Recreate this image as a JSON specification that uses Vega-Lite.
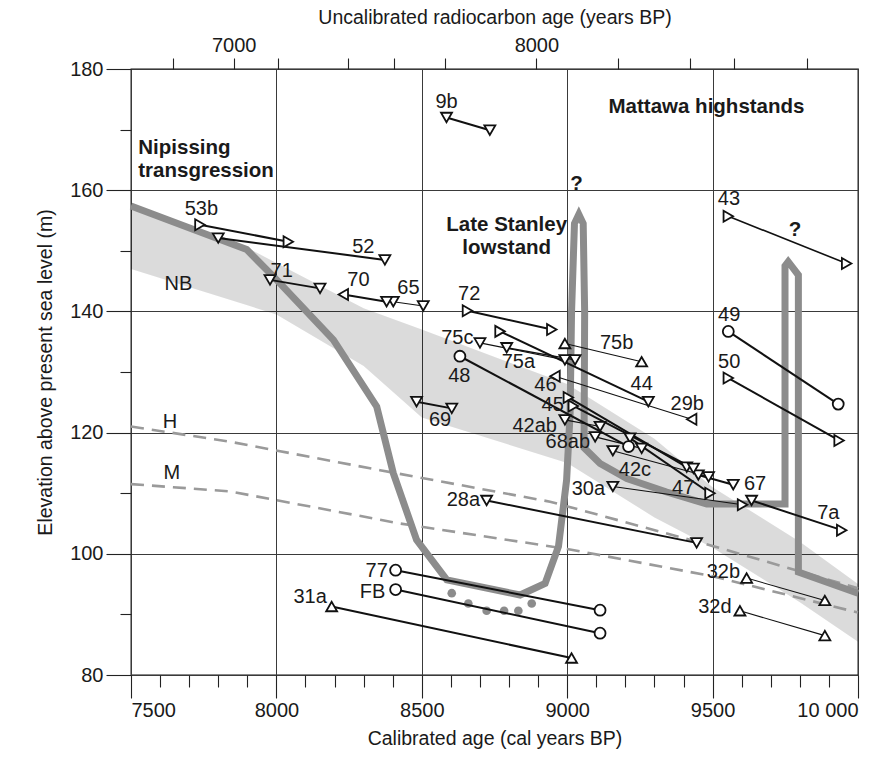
{
  "$schema": "https://vega.github.io/schema/vega-lite/v6.json",
  "width": 727,
  "height": 606,
  "autosize": {"type": "none"},
  "padding": {"left": 131, "top": 69, "right": 38, "bottom": 85},
  "config": {
    "font": "Liberation Sans",
    "view": {"stroke": "#111", "strokeWidth": 1.3},
    "axis": {"labelFontSize": 20, "titleFontSize": 19.5, "titleFontWeight": "normal", "labelColor": "#1a1a1a", "titleColor": "#1a1a1a", "tickColor": "#222", "domain": false, "gridColor": "#3a3a3a", "gridOpacity": 1, "gridWidth": 1, "tickWidth": 1.1}
  },
  "datasets": {
    "band": [
      {"x": 7500, "top": 157, "bot": 147},
      {"x": 7900, "top": 150.5, "bot": 141},
      {"x": 8000, "top": 148, "bot": 139.5},
      {"x": 8300, "top": 140.5, "bot": 131},
      {"x": 8500, "top": 137, "bot": 122.5},
      {"x": 9000, "top": 128, "bot": 115},
      {"x": 9300, "top": 119, "bot": 106},
      {"x": 9500, "top": 111, "bot": 101},
      {"x": 9800, "top": 102, "bot": 92},
      {"x": 10000, "top": 95, "bot": 85.5}
    ],
    "dashed": [
      {"line": "H", "x": 7500, "y": 121.0},
      {"line": "H", "x": 7840, "y": 118.5},
      {"line": "H", "x": 8356, "y": 113.8},
      {"line": "H", "x": 8941, "y": 108.6},
      {"line": "H", "x": 9500, "y": 101.3},
      {"line": "H", "x": 10000, "y": 94.3},
      {"line": "M", "x": 7500, "y": 111.5},
      {"line": "M", "x": 7840, "y": 110.3},
      {"line": "M", "x": 8425, "y": 105.0},
      {"line": "M", "x": 9000, "y": 100.8},
      {"line": "M", "x": 9500, "y": 96.3},
      {"line": "M", "x": 10000, "y": 90.3}
    ],
    "curve": [
      {"i": 1, "x": 7500, "y": 157.4},
      {"i": 2, "x": 7898, "y": 150.2},
      {"i": 3, "x": 8001, "y": 145.2},
      {"i": 4, "x": 8196, "y": 135.3},
      {"i": 5, "x": 8345, "y": 124.3},
      {"i": 6, "x": 8402, "y": 113.3},
      {"i": 7, "x": 8482, "y": 102.3},
      {"i": 8, "x": 8586, "y": 95.7},
      {"i": 9, "x": 8838, "y": 93.2},
      {"i": 10, "x": 8924, "y": 95.1},
      {"i": 11, "x": 8970, "y": 101.2},
      {"i": 12, "x": 8998, "y": 112.2},
      {"i": 13, "x": 9010, "y": 123.2},
      {"i": 14, "x": 9015, "y": 140},
      {"i": 15, "x": 9025, "y": 154.5},
      {"i": 16, "x": 9040, "y": 156},
      {"i": 17, "x": 9055, "y": 154.5},
      {"i": 18, "x": 9060, "y": 140},
      {"i": 19, "x": 9058, "y": 117.5},
      {"i": 20, "x": 9113, "y": 114.9},
      {"i": 21, "x": 9205, "y": 112.4},
      {"i": 22, "x": 9342, "y": 110.2},
      {"i": 23, "x": 9480, "y": 108.2},
      {"i": 24, "x": 9749, "y": 108.2},
      {"i": 25, "x": 9749, "y": 147.5},
      {"i": 26, "x": 9760, "y": 148.2},
      {"i": 27, "x": 9795, "y": 146},
      {"i": 28, "x": 9795, "y": 97},
      {"i": 29, "x": 10000, "y": 93.5}
    ],
    "dots": [
      {"x": 8603, "y": 93.5},
      {"x": 8660, "y": 91.8},
      {"x": 8723, "y": 90.6},
      {"x": 8783, "y": 90.6},
      {"x": 8832, "y": 90.6},
      {"x": 8878, "y": 91.8}
    ],
    "samples": [
      {"id": "9b", "x1": 8585, "y1": 172.0, "s1": "triangle-down", "x2": 8734, "y2": 169.9, "s2": "triangle-down", "w": 2},
      {"id": "43", "x1": 9554, "y1": 155.7, "s1": "triangle-right", "x2": 9961, "y2": 147.9, "s2": "triangle-right", "w": 1.6},
      {"id": "53b", "x1": 7737, "y1": 154.3, "s1": "triangle-right", "x2": 8041, "y2": 151.5, "s2": "triangle-right", "w": 2},
      {"id": "52", "x1": 7800, "y1": 152.1, "s1": "triangle-down", "x2": 8373, "y2": 148.5, "s2": "triangle-down", "w": 2},
      {"id": "71", "x1": 7978, "y1": 145.2, "s1": "triangle-down", "x2": 8150, "y2": 143.8, "s2": "triangle-down", "w": 2},
      {"id": "70", "x1": 8230, "y1": 142.8, "s1": "triangle-left", "x2": 8379, "y2": 141.6, "s2": "triangle-down", "w": 2},
      {"id": "65", "x1": 8402, "y1": 141.6, "s1": "triangle-down", "x2": 8505, "y2": 140.9, "s2": "triangle-down", "w": 1.1},
      {"id": "72", "x1": 8657, "y1": 140.1, "s1": "triangle-right", "x2": 8947, "y2": 137.0, "s2": "triangle-right", "w": 2},
      {"id": "75c", "x1": 8700, "y1": 134.8, "s1": "triangle-down", "x2": 8992, "y2": 132.0, "s2": "triangle-down", "w": 1.1},
      {"id": "75a", "x1": 8792, "y1": 134.0, "s1": "triangle-down", "x2": 9027, "y2": 132.0, "s2": "triangle-down", "w": 1.4},
      {"id": "44", "x1": 8769, "y1": 136.7, "s1": "triangle-right", "x2": 9279, "y2": 125.1, "s2": "triangle-down", "w": 2},
      {"id": "75b", "x1": 8992, "y1": 134.7, "s1": "triangle-up", "x2": 9256, "y2": 131.7, "s2": "triangle-up", "w": 1.1},
      {"id": "29b", "x1": 8958, "y1": 129.3, "s1": "triangle-left", "x2": 9428, "y2": 122.2, "s2": "triangle-left", "w": 1.1},
      {"id": "48", "x1": 8631, "y1": 132.6, "s1": "circle", "x2": 9211, "y2": 117.7, "s2": "circle", "w": 2},
      {"id": "46", "x1": 9004, "y1": 125.8, "s1": "triangle-right", "x2": 9411, "y2": 114.3, "s2": "triangle-down", "w": 2},
      {"id": "45", "x1": 9021, "y1": 124.4, "s1": "triangle-right", "x2": 9434, "y2": 114.1, "s2": "triangle-down", "w": 2},
      {"id": "47", "x1": 9216, "y1": 119.1, "s1": "triangle-down", "x2": 9491, "y2": 110.0, "s2": "triangle-right", "w": 2},
      {"id": "42ab", "x1": 8992, "y1": 122.1, "s1": "triangle-down", "x2": 9113, "y2": 121.0, "s2": "triangle-down", "w": 1.1},
      {"id": "68ab", "x1": 9096, "y1": 119.3, "s1": "triangle-down", "x2": 9256, "y2": 117.4, "s2": "triangle-down", "w": 1.1},
      {"id": "42c", "x1": 9157, "y1": 117.0, "s1": "triangle-down", "x2": 9486, "y2": 112.7, "s2": "triangle-down", "w": 1.1},
      {"id": "67", "x1": 9451, "y1": 113.0, "s1": "triangle-down", "x2": 9571, "y2": 111.4, "s2": "triangle-down", "w": 2},
      {"id": "30a", "x1": 9157, "y1": 111.1, "s1": "triangle-down", "x2": 9603, "y2": 108.1, "s2": "triangle-right", "w": 1.1},
      {"id": "7a", "x1": 9634, "y1": 108.8, "s1": "triangle-down", "x2": 9944, "y2": 103.9, "s2": "triangle-right", "w": 2},
      {"id": "28a", "x1": 8723, "y1": 108.8, "s1": "triangle-down", "x2": 9445, "y2": 101.8, "s2": "triangle-down", "w": 2},
      {"id": "49", "x1": 9554, "y1": 136.7, "s1": "circle", "x2": 9932, "y2": 124.7, "s2": "circle", "w": 2},
      {"id": "50", "x1": 9554, "y1": 129.0, "s1": "triangle-right", "x2": 9935, "y2": 118.7, "s2": "triangle-right", "w": 2},
      {"id": "69", "x1": 8482, "y1": 125.1, "s1": "triangle-down", "x2": 8603, "y2": 124.0, "s2": "triangle-down", "w": 2},
      {"id": "77", "x1": 8410, "y1": 97.3, "s1": "circle", "x2": 9113, "y2": 90.7, "s2": "circle", "w": 2},
      {"id": "FB", "x1": 8410, "y1": 94.1, "s1": "circle", "x2": 9113, "y2": 86.9, "s2": "circle", "w": 2},
      {"id": "31a", "x1": 8190, "y1": 91.3, "s1": "triangle-up", "x2": 9015, "y2": 82.8, "s2": "triangle-up", "w": 2},
      {"id": "32b", "x1": 9617, "y1": 96.0, "s1": "triangle-up", "x2": 9886, "y2": 92.3, "s2": "triangle-up", "w": 1.1},
      {"id": "32d", "x1": 9594, "y1": 90.6, "s1": "triangle-up", "x2": 9886, "y2": 86.5, "s2": "triangle-up", "w": 1.1}
    ],
    "labels": [
      {"t": "53b", "x": 7742, "y": 156.9}, {"t": "52", "x": 8299, "y": 150.7},
      {"t": "71", "x": 8018, "y": 146.7}, {"t": "70", "x": 8282, "y": 145.2},
      {"t": "65", "x": 8454, "y": 143.8}, {"t": "72", "x": 8663, "y": 142.9},
      {"t": "9b", "x": 8585, "y": 174.6}, {"t": "43", "x": 9556, "y": 158.5},
      {"t": "75c", "x": 8622, "y": 135.6}, {"t": "75a", "x": 8832, "y": 131.6},
      {"t": "48", "x": 8629, "y": 129.3}, {"t": "75b", "x": 9170, "y": 134.8},
      {"t": "44", "x": 9256, "y": 128.1}, {"t": "29b", "x": 9413, "y": 124.7},
      {"t": "46", "x": 8925, "y": 127.9}, {"t": "45", "x": 8950, "y": 124.5},
      {"t": "42ab", "x": 8888, "y": 121.1}, {"t": "68ab", "x": 9002, "y": 118.5},
      {"t": "42c", "x": 9233, "y": 113.9}, {"t": "30a", "x": 9073, "y": 110.7},
      {"t": "47", "x": 9399, "y": 110.8}, {"t": "67", "x": 9646, "y": 111.6},
      {"t": "7a", "x": 9898, "y": 106.8}, {"t": "28a", "x": 8643, "y": 108.8},
      {"t": "49", "x": 9557, "y": 139.4}, {"t": "50", "x": 9557, "y": 131.7},
      {"t": "69", "x": 8563, "y": 122.0}, {"t": "32b", "x": 9537, "y": 97.0},
      {"t": "32d", "x": 9508, "y": 91.2}, {"t": "77", "x": 8345, "y": 97.2},
      {"t": "FB", "x": 8331, "y": 93.7}, {"t": "31a", "x": 8116, "y": 92.9},
      {"t": "NB", "x": 7663, "y": 144.6}, {"t": "H", "x": 7634, "y": 121.8},
      {"t": "M", "x": 7640, "y": 113.4}
    ],
    "bold": [
      {"t": "Late Stanley", "x": 8792, "y": 154.3},
      {"t": "lowstand", "x": 8792, "y": 150.4},
      {"t": "Mattawa highstands", "x": 9479, "y": 173.8},
      {"t": "?", "x": 9032, "y": 161.1},
      {"t": "?", "x": 9783, "y": 153.5}
    ],
    "boldLeft": [
      {"t": "Nipissing", "x": 7525, "y": 166.9},
      {"t": "transgression", "x": 7525, "y": 163.1}
    ]
  },
  "layer": [
    {
      "data": {"name": "band"},
      "mark": {"type": "area", "orient": "vertical", "fill": "#000", "fillOpacity": 0.14},
      "encoding": {
        "x": {"field": "x", "type": "quantitative", "scale": {"domain": [7500, 10000], "nice": false, "zero": false},
          "axis": {"orient": "bottom", "values": [7500, 8000, 8500, 9000, 9500, 10000], "tickSize": 23, "labelPadding": 2, "grid": true, "labelExpr": "datum.value == 10000 ? '10 000' : datum.label", "format": "d", "title": "Calibrated age (cal years BP)", "titlePadding": 9}},
        "y": {"field": "top", "type": "quantitative", "scale": {"domain": [80, 180], "nice": false, "zero": false},
          "axis": {"orient": "left", "values": [80, 100, 120, 140, 160, 180], "tickSize": 25, "labelPadding": 3, "grid": true, "title": "Elevation above present sea level (m)", "titlePadding": 14}},
        "y2": {"field": "bot"}
      }
    },
    {
      "data": {"name": "dashed"},
      "mark": {"type": "line", "stroke": "#9a9a9a", "strokeWidth": 2.6, "strokeDash": [13, 8]},
      "encoding": {
        "x": {"field": "x", "type": "quantitative", "axis": {"orient": "bottom", "values": [7600, 7700, 7800, 7900, 8100, 8200, 8300, 8400, 8600, 8700, 8800, 8900, 9100, 9200, 9300, 9400, 9600, 9700, 9800, 9900], "tickSize": 12, "labels": false, "grid": false, "title": null}},
        "y": {"field": "y", "type": "quantitative", "axis": {"orient": "left", "values": [90, 110, 130, 150, 170], "tickSize": 11, "labels": false, "grid": false, "title": null}},
        "detail": {"field": "line"}
      }
    },
    {
      "data": {"name": "curve"},
      "mark": {"type": "line", "stroke": "#8c8c8c", "strokeWidth": 7, "strokeJoin": "miter"},
      "encoding": {
        "x": {"field": "x", "type": "quantitative", "axis": {"orient": "top", "values": [7644, 7853, 8004, 8246, 8404, 8581, 8894, 9175, 9421, 9573, 9825], "tickSize": 11, "labelPadding": 3, "grid": false, "labelExpr": "datum.value == 7853 ? '7000' : (datum.value == 8894 ? '8000' : '')", "title": "Uncalibrated radiocarbon age (years BP)", "titlePadding": 8}},
        "y": {"field": "y", "type": "quantitative", "axis": null},
        "order": {"field": "i"}
      }
    },
    {
      "data": {"name": "dots"},
      "mark": {"type": "point", "filled": true, "color": "#8c8c8c", "size": 75, "opacity": 1},
      "encoding": {
        "x": {"field": "x", "type": "quantitative", "axis": null},
        "y": {"field": "y", "type": "quantitative", "axis": null}
      }
    },
    {
      "data": {"name": "samples"},
      "mark": {"type": "rule", "color": "#111"},
      "encoding": {
        "x": {"field": "x1", "type": "quantitative", "axis": null},
        "y": {"field": "y1", "type": "quantitative", "axis": null},
        "x2": {"field": "x2"},
        "y2": {"field": "y2"},
        "strokeWidth": {"field": "w", "type": "quantitative", "scale": null}
      }
    },
    {
      "data": {"name": "samples"},
      "mark": {"type": "point", "filled": true, "fill": "white", "stroke": "#111", "strokeWidth": 1.8, "size": 120, "opacity": 1},
      "encoding": {
        "x": {"field": "x1", "type": "quantitative", "axis": null},
        "y": {"field": "y1", "type": "quantitative", "axis": null},
        "shape": {"field": "s1", "type": "nominal", "scale": null}
      }
    },
    {
      "data": {"name": "samples"},
      "mark": {"type": "point", "filled": true, "fill": "white", "stroke": "#111", "strokeWidth": 1.8, "size": 120, "opacity": 1},
      "encoding": {
        "x": {"field": "x2", "type": "quantitative", "axis": null},
        "y": {"field": "y2", "type": "quantitative", "axis": null},
        "shape": {"field": "s2", "type": "nominal", "scale": null}
      }
    },
    {
      "data": {"name": "labels"},
      "mark": {"type": "text", "fontSize": 20, "color": "#1a1a1a", "align": "center", "baseline": "middle"},
      "encoding": {
        "x": {"field": "x", "type": "quantitative", "axis": null},
        "y": {"field": "y", "type": "quantitative", "axis": null},
        "text": {"field": "t"}
      }
    },
    {
      "data": {"name": "bold"},
      "mark": {"type": "text", "fontSize": 20.5, "fontWeight": "bold", "color": "#1a1a1a", "align": "center", "baseline": "middle"},
      "encoding": {
        "x": {"field": "x", "type": "quantitative", "axis": null},
        "y": {"field": "y", "type": "quantitative", "axis": null},
        "text": {"field": "t"}
      }
    },
    {
      "data": {"name": "boldLeft"},
      "mark": {"type": "text", "fontSize": 20.5, "fontWeight": "bold", "color": "#1a1a1a", "align": "left", "baseline": "middle"},
      "encoding": {
        "x": {"field": "x", "type": "quantitative", "axis": null},
        "y": {"field": "y", "type": "quantitative", "axis": null},
        "text": {"field": "t"}
      }
    }
  ],
  "resolve": {"axis": {"x": "independent", "y": "independent"}}
}
